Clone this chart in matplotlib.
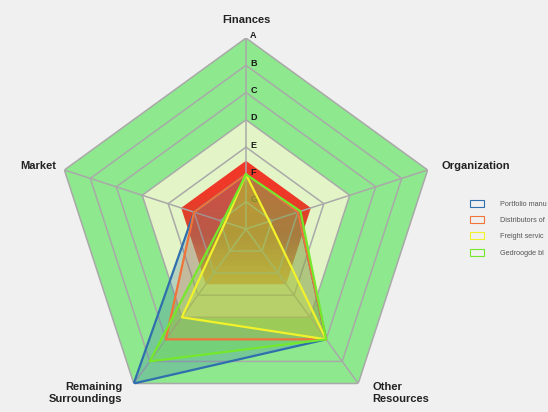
import numpy as np
import matplotlib
matplotlib.use("Agg")
import matplotlib.pyplot as plt
from matplotlib.colors import LinearSegmentedColormap
from matplotlib.image import AxesImage
from matplotlib.patches import Patch

categories = ["Finances", "Organization", "Other\nResources", "Remaining\nSurroundings", "Market"]
level_letters = ["G", "F", "E", "D", "C", "B", "A"]
levels = [1, 2, 3, 4, 5, 6, 7]
inner_zone = 4
danger_zone = 2.5

# legend names are cut off at the right edge in the original
series_names = ["Portfolio manu", "Distributors of", "Freight servic", "Gedroogde bl"]
portfolio = [2, 2, 5, 7, 2]
distributors = [2, 2, 5, 5, 2]
freight = [2, 0.9, 5, 4, 0.8]
gedroogde = [2, 2.1, 5, 6, 0.9]
series_colors = ["#2f6fae", "#f0743a", "#f2f22a", "#74e82a"]

plt.rcParams['font.family'] = ['Liberation Sans', 'DejaVu Sans']

fig = plt.figure(figsize=(5.48, 4.12), dpi=100, facecolor="#f0f0f0")
ax = fig.add_axes([0.1004, -0.0194, 0.697, 0.9272], polar=True)
ax.set_theta_offset(np.pi / 2)
ax.set_theta_direction(-1)
ax.patch.set_visible(False)
ax.spines['polar'].set_visible(False)
ax.grid(False)
ax.set_xticks([])
ax.set_yticks([])

n = len(categories)
angles = np.linspace(0, 2 * np.pi, n, endpoint=False).tolist()
closed = angles + angles[:1]

def ring(r):
    return [r] * (n + 1)

# background bands
ax.fill(closed, ring(levels[-1]), color="#8ee88e", lw=0, zorder=1)
ax.fill(closed, ring(inner_zone), color="#e3f5c6", lw=0, zorder=1.1)

# red -> orange gradient zone
zone = ax.fill(closed, ring(danger_zone), facecolor="none", lw=0, zorder=1.2)[0]
cmap = LinearSegmentedColormap.from_list(
    "zone", [(0.0, "#e8963a"), (0.37, "#e8963a"), (0.48, "#cf4a2c"),
             (0.6, "#f03828"), (1.0, "#f03828")])
im = AxesImage(ax, cmap=cmap, extent=(0, 1, 0, 1), transform=ax.transAxes,
               interpolation="bilinear", origin="lower", zorder=1.3)
im.set_data(np.linspace(0, 1, 256).reshape(-1, 1))
im.set_clip_path(zone)
ax.add_image(im)

# grid rings and spokes
for r in levels:
    ax.plot(closed, ring(r), color="#a9a9a9", lw=1.1, zorder=2)
for a in angles:
    ax.plot([a, a], [0, levels[-1]], color="#a9a9a9", lw=1.1, zorder=2)

# level letters
for r, lab in zip(levels, level_letters):
    ax.annotate(lab, xy=(0, r), xytext=(3, 1.5), textcoords="offset points",
                ha="left", va="center", fontsize=6.5, fontweight="bold",
                color="#1a1a1a", zorder=2.5)

# series
all_series = [portfolio, distributors, freight, gedroogde]
for vals, col in zip(all_series, series_colors):
    v = vals + vals[:1]
    ax.fill(closed, v, color=col, alpha=0.25, lw=0, zorder=3)
for vals, col in zip(all_series, series_colors):
    v = vals + vals[:1]
    ax.plot(closed, v, color=col, lw=1.6, zorder=4)

# category labels
lab_kw = dict(fontsize=8, fontweight="bold", color="#222222", textcoords="offset points")
ax.annotate(categories[0], xy=(angles[0], 7), xytext=(0, 13), ha="center", va="center", **lab_kw)
ax.annotate(categories[1], xy=(angles[1], 7), xytext=(10, 3), ha="left", va="center", **lab_kw)
ax.annotate(categories[2], xy=(angles[2], 7), xytext=(10, 1), ha="left", va="top",
            multialignment="left", **lab_kw)
ax.annotate(categories[3], xy=(angles[3], 7), xytext=(-8, 1), ha="right", va="top",
            multialignment="right", **lab_kw)
ax.annotate(categories[4], xy=(angles[4], 7), xytext=(-6, 3), ha="right", va="center", **lab_kw)

ax.set_ylim(0, 7)

handles = [Patch(facecolor="none", edgecolor=c, lw=0.8) for c in series_colors]
leg = fig.legend(handles, series_names, loc="upper left", bbox_to_anchor=(470 / 548, 1 - 200 / 412),
                 frameon=False, fontsize=5.2, handlelength=1.9, handleheight=1.1,
                 handletextpad=2.2, labelspacing=1.15, borderpad=0, borderaxespad=0)
for t in leg.get_texts():
    t.set_color("#555555")

fig.savefig("out.png", dpi=100, facecolor=fig.get_facecolor())
